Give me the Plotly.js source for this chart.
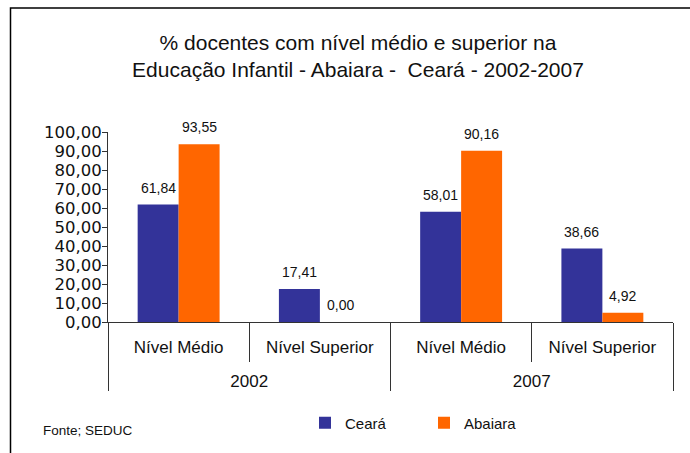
<!DOCTYPE html>
<html>
<head>
<meta charset="utf-8">
<script src="https://cdn.plot.ly/plotly-3.0.1.min.js"></script>
<style>
  html, body { margin: 0; padding: 0; background: #ffffff; }
  #chart { width: 690px; height: 453px; }
</style>
</head>
<body>
<div id="chart"></div>
<script>
// ---- data ----
const years = ['2002', '2002', '2007', '2007'];
const levels = ['Nível Médio', 'Nível Superior', 'Nível Médio', 'Nível Superior'];
const seriesNames = ['Ceará', 'Abaiara'];
const ceara = [61.84, 17.41, 58.01, 38.66];
const abaiara = [93.55, 0.00, 90.16, 4.92];
const yTicks = [0, 10, 20, 30, 40, 50, 60, 70, 80, 90, 100];
const titleText = '% docentes com nível médio e superior na<br>Educação Infantil - Abaiara - \u00a0Ceará - 2002-2007';
const sourceText = 'Fonte; SEDUC';

// ---- layout constants ----
const W = 690, H = 453;
const M = { l: 108, r: 17, t: 132, b: 131 };
const plotW = W - M.l - M.r;
const plotH = H - M.t - M.b;
const bargap = 0.42;
const colors = ['#333399', '#FF6600'];
const FONT = 'Liberation Sans, Arial, sans-serif';

const pxX = px => (px - M.l) / plotW;
const pxY = py => (H - M.b - py) / plotH;

// year labels start with a spacer line so the year row sits lower, as in the original
const yearLabels = years.map(y => '\u00a0<br>' + y);

const seriesVals = [ceara, abaiara];
const traces = seriesVals.map((vals, s) => ({
  type: 'bar',
  name: seriesNames[s],
  x: [yearLabels, levels],
  y: vals,
  marker: { color: colors[s], line: { width: 0 } },
  hoverinfo: 'skip'
}));

// value labels above each bar
const n = levels.length;
const catW = plotW / n;
const barW = catW * (1 - bargap) / 2;
const annotations = [];
seriesVals.forEach((vals, s) => {
  vals.forEach((v, i) => {
    annotations.push({
      xref: 'paper', yref: 'y',
      x: (i + 0.5) / n, y: v,
      xshift: (s === 0 ? -1 : 1) * barW / 2,
      yshift: 7,
      xanchor: 'center', yanchor: 'bottom',
      text: v.toFixed(2).replace('.', ','),
      showarrow: false,
      font: { family: FONT, size: 14, color: '#111111' }
    });
  });
});
annotations.push({
  xref: 'paper', yref: 'paper',
  x: pxX(41), y: pxY(430),
  xanchor: 'left', yanchor: 'middle',
  text: sourceText, showarrow: false,
  font: { family: FONT, size: 13.5, color: '#111111' }
});

const layout = {
  width: W, height: H,
  margin: M,
  paper_bgcolor: '#ffffff',
  plot_bgcolor: '#ffffff',
  separators: ',.',
  barmode: 'group',
  bargap: bargap,
  bargroupgap: 0,
  showlegend: true,
  title: {
    text: titleText,
    font: { family: FONT, size: 21, color: '#111111' },
    xref: 'container', x: 358 / W, xanchor: 'center',
    yref: 'container', y: 1 - 50 / H, yanchor: 'middle'
  },
  xaxis: {
    type: 'multicategory',
    showline: true, linecolor: '#333333', linewidth: 1,
    ticks: 'outside', tickson: 'boundaries', ticklen: 39, tickcolor: '#333333',
    ticklabelstandoff: 10,
    showdividers: true, dividercolor: '#333333', dividerwidth: 1,
    tickfont: { family: FONT, size: 17, color: '#111111' },
    showgrid: false, zeroline: false, automargin: false, fixedrange: true
  },
  yaxis: {
    range: [0, 100],
    tickvals: yTicks,
    tickformat: '.2f',
    showline: true, linecolor: '#333333', linewidth: 1,
    ticks: 'outside', ticklen: 5, tickcolor: '#333333',
    ticklabelstandoff: -3,
    tickfont: { family: 'DejaVu Sans, sans-serif', size: 16.5, color: '#111111' },
    showgrid: false, zeroline: false, automargin: false, fixedrange: true
  },
  legend: {
    orientation: 'h',
    x: pxX(305), xanchor: 'left',
    y: pxY(423), yanchor: 'middle',
    entrywidth: 74,
    font: { family: FONT, size: 15, color: '#111111' },
    bgcolor: 'rgba(0,0,0,0)', borderwidth: 0
  },
  annotations: annotations,
  shapes: [{
    type: 'rect', xref: 'paper', yref: 'paper',
    x0: pxX(10.5), x1: pxX(720), y0: pxY(480), y1: pxY(8),
    line: { color: '#000000', width: 1.5 }, fillcolor: 'rgba(0,0,0,0)',
    layer: 'above'
  }]
};

Plotly.newPlot('chart', traces, layout, { displayModeBar: false, staticPlot: true });
</script>
</body>
</html>
